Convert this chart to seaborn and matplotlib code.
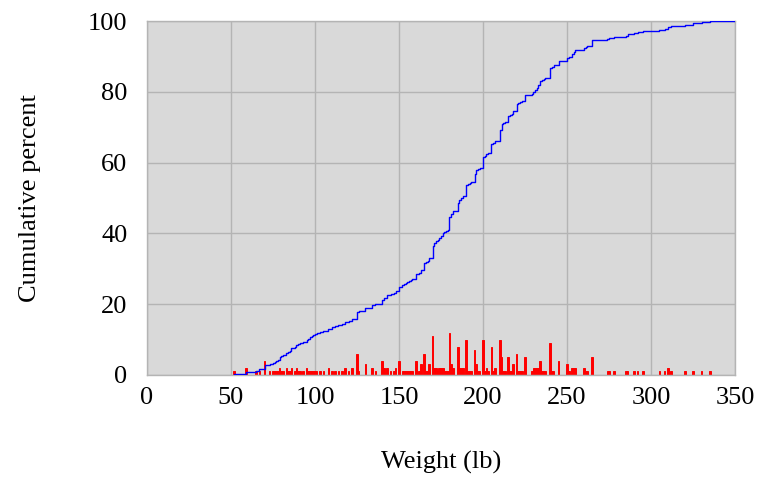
import pandas as pd
import matplotlib.pyplot as plt
import seaborn as sns

# weights (lb) and number of people at each weight
weight_lb = [52, 59, 65, 67, 70, 73, 75, 76, 77, 78, 79, 80, 81, 83, 84, 85, 86, 88, 89, 90, 91, 93, 95, 96, 97, 98, 99, 100,
             101, 103, 105, 108, 110, 112, 114, 116, 118, 120, 122, 125, 126, 130, 134, 136, 140, 141, 143,
             145, 147, 148, 150, 152, 153, 154, 155, 156, 157, 158, 160, 162, 163, 165, 166, 167, 168,
             170, 171, 172, 173, 174, 175, 176, 177, 178, 179, 180, 181, 182, 185, 186, 187, 188, 190, 191, 192, 193, 195,
             196, 197, 198, 200, 201, 202, 203, 205, 206, 207, 210, 211, 212, 213, 215, 216, 217, 218, 220, 221, 222, 223,
             225, 229, 230, 231, 232, 233, 234, 235, 236, 237, 240, 241, 242, 245,
             250, 251, 253, 254, 255, 260, 261, 262, 265, 274, 275, 278, 285, 286, 290, 292, 295,
             305, 308, 310, 312, 320, 325, 330, 335]
n_people = [1, 2, 1, 1, 4, 1, 1, 1, 1, 1, 2, 1, 1, 2, 1, 1, 2, 1, 2, 1, 1, 1, 2, 1, 1, 1, 1, 1,
            1, 1, 1, 2, 1, 1, 1, 1, 2, 1, 2, 6, 1, 3, 2, 1, 4, 2, 2,
            1, 1, 2, 4, 1, 1, 1, 1, 1, 1, 1, 4, 1, 3, 6, 1, 1, 3,
            11, 2, 2, 1, 2, 2, 2, 1, 1, 1, 12, 3, 2, 8, 2, 2, 2, 10, 1, 1, 1, 7,
            3, 1, 1, 10, 1, 2, 1, 8, 1, 2, 10, 5, 1, 1, 5, 1, 1, 3, 6, 1, 1, 1,
            5, 1, 2, 2, 2, 2, 4, 1, 1, 1, 9, 1, 1, 4,
            3, 1, 2, 2, 2, 2, 1, 1, 5, 1, 1, 1, 1, 1, 1, 1, 1,
            1, 1, 2, 1, 1, 1, 1, 1]

x_ticks = [0, 50, 100, 150, 200, 250, 300, 350]
y_ticks = [0, 20, 40, 60, 80, 100]

df = pd.DataFrame({'weight': weight_lb, 'count': n_people})

sns.set_theme(style="whitegrid")
plt.rcParams['font.family'] = ['Liberation Serif', 'DejaVu Serif']
grid_col = '#B4B4B4'

fig, ax = plt.subplots(figsize=(7.61, 4.82), dpi=100)
fig.subplots_adjust(left=0.193, right=0.966, top=0.956, bottom=0.222)
ax.set_facecolor('#D9D9D9')

sns.histplot(data=df, x='weight', weights='count', discrete=True, color='red',
             alpha=1, edgecolor='red', linewidth=0.7, ax=ax, zorder=2)
sns.ecdfplot(data=df, x='weight', weights='count', stat='percent', color='blue',
             linewidth=1, ax=ax, zorder=3)
# curve stays at 100 after the heaviest weight
ax.hlines(100, df['weight'].max(), x_ticks[-1], color='blue', linewidth=1, zorder=3)

ax.set_xlim(x_ticks[0], x_ticks[-1])
ax.set_ylim(y_ticks[0], y_ticks[-1])
ax.set_xticks(x_ticks)
ax.set_yticks(y_ticks)
ax.grid(True, color=grid_col, linewidth=1)
ax.set_axisbelow(True)
for sp in ax.spines.values():
    sp.set_color(grid_col)
    sp.set_linewidth(1)

ax.tick_params(axis='both', length=0, labelsize=19, labelcolor='black')
ax.tick_params(axis='x', pad=9)
ax.tick_params(axis='y', pad=14)
ax.set_xlabel('Weight (lb)', fontsize=19, labelpad=30, color='black')
ax.set_ylabel('Cumulative percent', fontsize=19, labelpad=34, color='black')

plt.savefig('out.png', dpi=100)
plt.close()
